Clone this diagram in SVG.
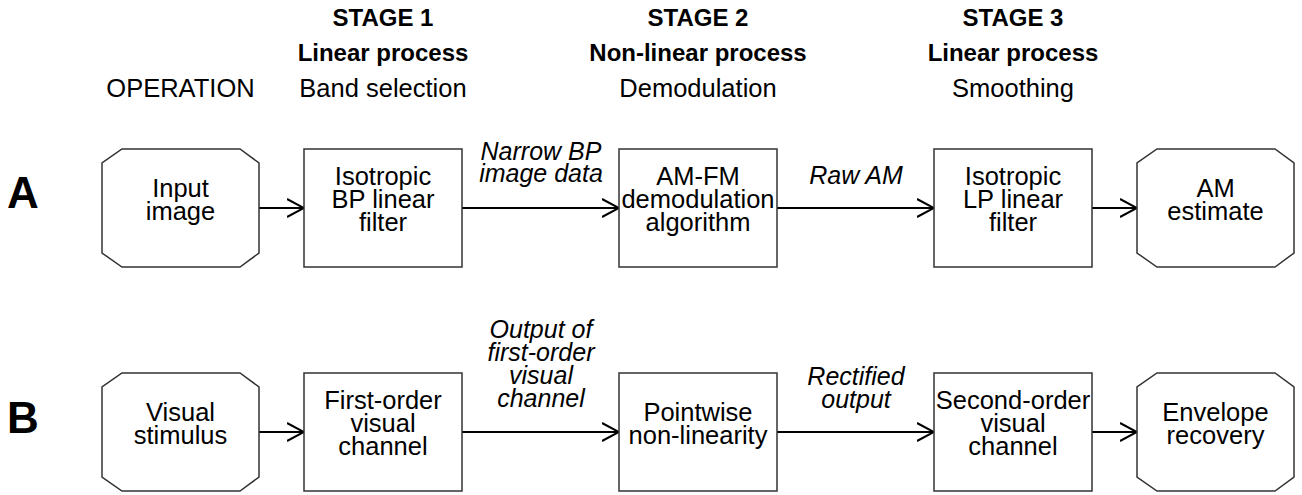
<svg xmlns="http://www.w3.org/2000/svg" width="1302" height="495" viewBox="0 0 1302 495">
<style>
text{font-family:"Liberation Sans",Arial,sans-serif;font-size:25.5px;fill:#000;text-anchor:middle}
.hd{font-weight:bold;font-size:24px}
.lbl{font-style:italic;font-size:25px}
.big{font-weight:bold;font-size:44px;text-anchor:start}
.box{fill:#fff;stroke:#333;stroke-width:1.5}
.conn{stroke:#000;stroke-width:2;fill:none;marker-end:url(#arr)}
</style>
<defs>
<marker id="arr" viewBox="0 0 18 20" refX="17" refY="10" markerWidth="18" markerHeight="20" markerUnits="userSpaceOnUse" orient="auto">
<path d="M0,1 L17,10 L0,19" fill="none" stroke="#000" stroke-width="2"/>
</marker>
</defs>
<rect width="1302" height="495" fill="#fff"/>
<g id="headers">
<text x="180.5" y="97">OPERATION</text>
<text class="hd" x="383" y="26">STAGE 1</text>
<text class="hd" x="383" y="61">Linear process</text>
<text x="383" y="97">Band selection</text>
<text class="hd" x="698" y="26">STAGE 2</text>
<text class="hd" x="698" y="61">Non-linear process</text>
<text x="698" y="97">Demodulation</text>
<text class="hd" x="1013" y="26">STAGE 3</text>
<text class="hd" x="1013" y="61">Linear process</text>
<text x="1013" y="97">Smoothing</text>
<text class="big" x="7" y="208">A</text>
<text class="big" x="7" y="433">B</text>
</g>
<g id="connectors">
<line class="conn" x1="259" y1="208" x2="304" y2="208"/>
<line class="conn" x1="462" y1="208" x2="619" y2="208"/>
<line class="conn" x1="777" y1="208" x2="934" y2="208"/>
<line class="conn" x1="1092" y1="208" x2="1137" y2="208"/>
<line class="conn" x1="259" y1="432" x2="304" y2="432"/>
<line class="conn" x1="462" y1="432" x2="619" y2="432"/>
<line class="conn" x1="777" y1="432" x2="934" y2="432"/>
<line class="conn" x1="1092" y1="432" x2="1137" y2="432"/>
<text class="lbl" x="541" y="160">Narrow BP</text>
<text class="lbl" x="541" y="182">image data</text>
<text class="lbl" x="856" y="184">Raw AM</text>
<text class="lbl" x="541" y="338">Output of</text>
<text class="lbl" x="541" y="361">first-order</text>
<text class="lbl" x="541" y="384">visual</text>
<text class="lbl" x="541" y="407">channel</text>
<text class="lbl" x="856" y="385">Rectified</text>
<text class="lbl" x="856" y="408">output</text>
</g>
<g id="a-input">
<polygon class="box" points="122,149 240,149 259,163 259,253 240,267 122,267 102,253 102,163"/>
<text x="180.5" y="197">Input</text>
<text x="180.5" y="220">image</text>
</g>
<g id="a-bp">
<rect class="box" x="304" y="149" width="158" height="118"/>
<text x="383" y="185">Isotropic</text>
<text x="383" y="208">BP linear</text>
<text x="383" y="231">filter</text>
</g>
<g id="a-demod">
<rect class="box" x="619" y="149" width="158" height="118"/>
<text x="698" y="185">AM-FM</text>
<text x="698" y="208">demodulation</text>
<text x="698" y="231">algorithm</text>
</g>
<g id="a-lp">
<rect class="box" x="934" y="149" width="158" height="118"/>
<text x="1013" y="185">Isotropic</text>
<text x="1013" y="208">LP linear</text>
<text x="1013" y="231">filter</text>
</g>
<g id="a-estimate">
<polygon class="box" points="1157,149 1275,149 1294,163 1294,253 1275,267 1157,267 1137,253 1137,163"/>
<text x="1215.5" y="197">AM</text>
<text x="1215.5" y="220">estimate</text>
</g>
<g id="b-stimulus">
<polygon class="box" points="122,373 240,373 259,387 259,477 240,491 122,491 102,477 102,387"/>
<text x="180.5" y="421">Visual</text>
<text x="180.5" y="444">stimulus</text>
</g>
<g id="b-first">
<rect class="box" x="304" y="373" width="158" height="118"/>
<text x="383" y="409">First-order</text>
<text x="383" y="432">visual</text>
<text x="383" y="455">channel</text>
</g>
<g id="b-pointwise">
<rect class="box" x="619" y="373" width="158" height="118"/>
<text x="698" y="421">Pointwise</text>
<text x="698" y="444">non-linearity</text>
</g>
<g id="b-second">
<rect class="box" x="934" y="373" width="158" height="118"/>
<text x="1013" y="409">Second-order</text>
<text x="1013" y="432">visual</text>
<text x="1013" y="455">channel</text>
</g>
<g id="b-envelope">
<polygon class="box" points="1157,373 1275,373 1294,387 1294,477 1275,491 1157,491 1137,477 1137,387"/>
<text x="1215.5" y="421">Envelope</text>
<text x="1215.5" y="444">recovery</text>
</g>
</svg>
